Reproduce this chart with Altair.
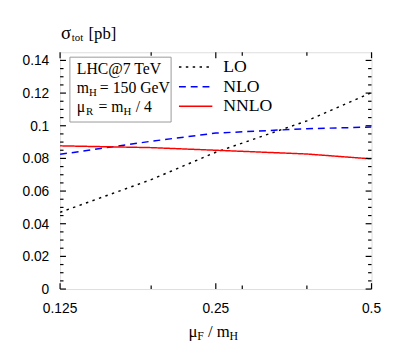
import altair as alt
import pandas as pd

# ---- data ----
mu_f = [0.125, 0.1875, 0.25, 0.375, 0.5]
lo = [0.047, 0.067, 0.0838, 0.103, 0.1203]
nlo = [0.0825, 0.0905, 0.0955, 0.0982, 0.0992]
nnlo = [0.0877, 0.0866, 0.085, 0.0827, 0.0797]
series = ["LO", "NLO", "NNLO"]
colors = ["#000000", "#0000ff", "#ff0000"]
dashes = [[2.5, 4.5], [7, 5], [1, 0]]

x_major = [0.125, 0.25, 0.5]
x_minor = [0.1875, 0.28125, 0.375]
y_major = [0, 0.02, 0.04, 0.06, 0.08, 0.1, 0.12, 0.14]
y_minor = [round(i * 0.005, 3) for i in range(1, 29) if i % 4 != 0]

title_parts = ["σ", "tot", "[pb]"]
xtitle_parts = ["μ", "F", "/ m", "H"]
box_line1 = ["LHC@7 TeV"]
box_line2 = ["m", "H", "= 150 GeV"]
box_line3 = ["μ", "R", "= m", "H", "/ 4"]

rows = []
for name, vals in zip(series, [lo, nlo, nnlo]):
    for xv, yv in zip(mu_f, vals):
        rows.append({"mu": xv, "sigma": yv, "series": name})
df = pd.DataFrame(rows)

W, H = 317, 241
SERIF = "Liberation Serif"
SANS = "Liberation Sans"

xscale = alt.Scale(type="log", base=2, domain=[0.125, 0.5], nice=False, zero=False)
yscale = alt.Scale(domain=[0, 0.145], nice=False, zero=False)

legend = alt.Legend(
    title=None, orient="none", legendX=120, legendY=5,
    symbolType="stroke", symbolSize=1156, symbolStrokeWidth=1.5,
    labelFont=SERIF, labelFontSize=18, labelOffset=10, labelColor="black",
    clipHeight=20, rowPadding=0, padding=0, labelLimit=0,
)

lines = alt.Chart(df).mark_line(strokeWidth=1.5, clip=True).encode(
    x=alt.X("mu:Q", scale=xscale, axis=None),
    y=alt.Y("sigma:Q", scale=yscale, axis=None),
    color=alt.Color("series:N", scale=alt.Scale(domain=series, range=colors), legend=legend),
    strokeDash=alt.StrokeDash("series:N", scale=alt.Scale(domain=series, range=dashes), legend=legend),
)


def yticks(vals, a, b):
    return alt.Chart(pd.DataFrame({"yt": vals})).mark_rule(color="black", strokeWidth=1.2).encode(
        y=alt.Y("yt:Q", scale=yscale, axis=None), x=alt.value(a), x2=alt.value(b))


def xticks(vals, a, b):
    return alt.Chart(pd.DataFrame({"xt": vals})).mark_rule(color="black", strokeWidth=1.2).encode(
        x=alt.X("xt:Q", scale=xscale, axis=None), y=alt.value(a), y2=alt.value(b))


ticks = [
    yticks(y_major, 0, 6), yticks(y_major, W - 6, W),
    yticks(y_minor, 0, 3.5), yticks(y_minor, W - 3.5, W),
    xticks(x_major, H, H - 6), xticks(x_major, 0, 6),
    xticks(x_minor, H, H - 3.5), xticks(x_minor, 0, 3.5),
]

# tick labels drawn through the scales
ylabels = alt.Chart(pd.DataFrame({"yl": y_major})).mark_text(
    font=SANS, fontSize=14, align="right", baseline="alphabetic", dy=5, color="black"
).encode(
    y=alt.Y("yl:Q", scale=yscale, axis=None), x=alt.value(-11),
    text=alt.Text("yl:Q", format="~g"),
)
xlabels = alt.Chart(pd.DataFrame({"xl": x_major})).mark_text(
    font=SANS, fontSize=14, align="center", baseline="alphabetic", color="black"
).encode(
    x=alt.X("xl:Q", scale=xscale, axis=None), y=alt.value(H + 24),
    text=alt.Text("xl:Q", format="~g"),
)

txt_df = pd.DataFrame({"k": [0]})


def piece(text, x, y, size, font=SERIF):
    return alt.Chart(txt_df).mark_text(
        text=text, font=font, fontSize=size, align="left", baseline="alphabetic", color="black"
    ).encode(x=alt.value(x), y=alt.value(y))


box = alt.Chart(txt_df).mark_rect(fill="white", stroke="#999999", strokeWidth=1).encode(
    x=alt.value(10), x2=alt.value(113), y=alt.value(5), y2=alt.value(71)
)

texts = [
    piece(title_parts[0], 1, -14, 19),
    piece(title_parts[1], 12, -11.5, 11),
    piece(title_parts[2], 29, -14, 17),
    piece(xtitle_parts[0], 130.7, 290, 17),
    piece(xtitle_parts[1], 139.5, 293, 12),
    piece(xtitle_parts[2], 150.5, 290, 17),
    piece(xtitle_parts[3], 172.5, 293, 12),
    piece(box_line1[0], 17, 22, 16),
    piece(box_line2[0], 17, 41.5, 16),
    piece(box_line2[1], 29.5, 44.5, 11),
    piece(box_line2[2], 40.5, 41.5, 16),
    piece(box_line3[0], 17, 61, 16),
    piece(box_line3[1], 26.3, 64, 11),
    piece(box_line3[2], 39, 61, 16),
    piece(box_line3[3], 64.5, 64, 11),
    piece(box_line3[4], 77, 61, 16),
]

chart = alt.layer(lines, *ticks, ylabels, xlabels, box, *texts).properties(
    width=W, height=H,
    autosize=alt.AutoSizeParams(type="none"),
    padding={"left": 53, "top": 42, "right": 30, "bottom": 60},
).configure_view(stroke="black", strokeWidth=1).configure(background="white")

chart.save("out.html", embed_options={"renderer": "svg", "actions": False})
